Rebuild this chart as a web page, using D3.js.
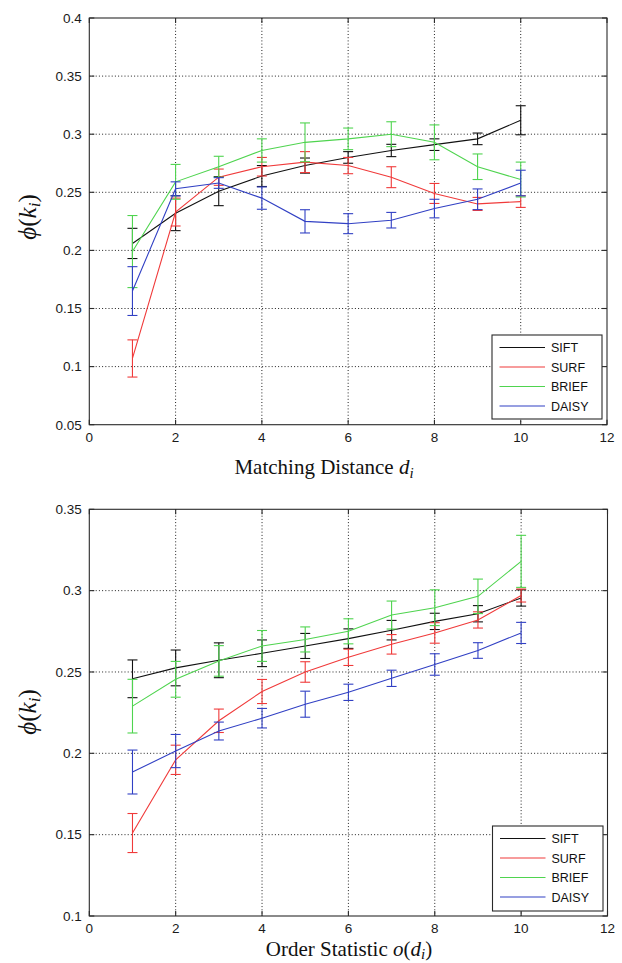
<!DOCTYPE html>
<html>
<head>
<meta charset="utf-8">
<script src="https://cdn.jsdelivr.net/npm/d3@7/dist/d3.min.js"></script>
<style>
  html, body { margin: 0; padding: 0; background: #fff; }
  svg { display: block; }
  .tick-label { font-family: "Liberation Sans", Arial, sans-serif; font-size: 13.5px; fill: #1a1a1a; }
  .axis-title { font-family: "Liberation Serif", "Times New Roman", serif; font-size: 21px; fill: #111; }
  .legend-text { font-family: "Liberation Sans", Arial, sans-serif; font-size: 12.5px; fill: #111; }
</style>
</head>
<body>
<svg id="fig" width="622" height="963"></svg>
<script>
// Shared x positions (index i = 1..10)
const xValues = [1, 2, 3, 4, 5, 6, 7, 8, 9, 10];
const xTicks = [0, 2, 4, 6, 8, 10, 12];
const seriesNames = ["SIFT", "SURF", "BRIEF", "DAISY"];
const seriesColors = ["#111111", "#f03a3a", "#4fd44f", "#3140c4"];

// Panel 1: phi(k_i) vs matching distance d_i
const yTicksTop = [0.05, 0.1, 0.15, 0.2, 0.25, 0.3, 0.35, 0.4];
const siftTop = [0.206, 0.232, 0.251, 0.264, 0.273, 0.280, 0.286, 0.291, 0.296, 0.312];
const siftTopErr = [0.013, 0.015, 0.0125, 0.009, 0.0065, 0.005, 0.0053, 0.005, 0.005, 0.0125];
const surfTop = [0.107, 0.233, 0.263, 0.272, 0.276, 0.273, 0.263, 0.249, 0.240, 0.242];
const surfTopErr = [0.016, 0.012, 0.007, 0.008, 0.009, 0.007, 0.009, 0.0086, 0.0056, 0.005];
const briefTop = [0.199, 0.259, 0.272, 0.286, 0.293, 0.296, 0.300, 0.293, 0.272, 0.261];
const briefTopErr = [0.031, 0.015, 0.009, 0.010, 0.0167, 0.0093, 0.0107, 0.015, 0.011, 0.015];
const daisyTop = [0.165, 0.253, 0.258, 0.245, 0.225, 0.223, 0.226, 0.236, 0.244, 0.258];
const daisyTopErr = [0.021, 0.006, 0.0046, 0.0096, 0.010, 0.0086, 0.0067, 0.008, 0.0089, 0.011];

// Panel 2: phi(k_i) vs order statistic o(d_i)
const yTicksBottom = [0.1, 0.15, 0.2, 0.25, 0.3, 0.35];
const siftBottom = [0.2458, 0.2525, 0.2572, 0.2615, 0.266, 0.2705, 0.2757, 0.2811, 0.2858, 0.2955];
const siftBottomErr = [0.0116, 0.011, 0.0107, 0.0082, 0.0077, 0.006, 0.006, 0.005, 0.005, 0.005];
const surfBottom = [0.151, 0.196, 0.220, 0.238, 0.250, 0.259, 0.267, 0.274, 0.282, 0.297];
const surfBottomErr = [0.012, 0.009, 0.0072, 0.0074, 0.0063, 0.005, 0.006, 0.0063, 0.005, 0.004];
const briefBottom = [0.229, 0.2455, 0.2568, 0.266, 0.270, 0.275, 0.285, 0.2895, 0.2965, 0.318];
const briefBottomErr = [0.0165, 0.011, 0.0094, 0.0095, 0.0077, 0.0077, 0.0086, 0.011, 0.0106, 0.016];
const daisyBottom = [0.1885, 0.2014, 0.2137, 0.2216, 0.2302, 0.2375, 0.2461, 0.2546, 0.2632, 0.274];
const daisyBottomErr = [0.0135, 0.0102, 0.0055, 0.006, 0.008, 0.005, 0.005, 0.0066, 0.0048, 0.0065];

const svg = d3.select("#fig");

function drawPanel(cfg) {
  const { left, right, top, bottom, yDomain, yTicks, means, errs,
          xTitle, xTitleX, xTitleY, yTitleY, legendBox } = cfg;
  const x = d3.scaleLinear().domain([0, 12]).range([left, right]);
  const y = d3.scaleLinear().domain(yDomain).range([bottom, top]);
  const g = svg.append("g");
  const tickLen = 5;

  // dotted grid
  const grid = g.append("g").attr("stroke", "#222").attr("stroke-width", 1)
    .attr("stroke-dasharray", "1,2.2");
  xTicks.filter(t => t > 0 && t < 12).forEach(t => {
    grid.append("line").attr("x1", x(t)).attr("x2", x(t))
      .attr("y1", top).attr("y2", bottom);
  });
  yTicks.filter(t => t > yDomain[0] && t < yDomain[1]).forEach(t => {
    grid.append("line").attr("x1", left).attr("x2", right)
      .attr("y1", y(t)).attr("y2", y(t));
  });

  // series: lines + error bars
  const line = d3.line().x((d, i) => x(xValues[i])).y(d => y(d));
  means.forEach((vals, s) => {
    const col = seriesColors[s];
    const sg = g.append("g").attr("stroke", col).attr("fill", "none").attr("stroke-width", 1.1);
    sg.append("path").attr("d", line(vals));
    vals.forEach((v, i) => {
      const e = errs[s][i];
      const cx = x(xValues[i]);
      const capW = 5;
      sg.append("line").attr("x1", cx).attr("x2", cx).attr("y1", y(v - e)).attr("y2", y(v + e));
      sg.append("line").attr("x1", cx - capW).attr("x2", cx + capW).attr("y1", y(v - e)).attr("y2", y(v - e));
      sg.append("line").attr("x1", cx - capW).attr("x2", cx + capW).attr("y1", y(v + e)).attr("y2", y(v + e));
    });
  });

  // axes box and inward ticks
  const ax = g.append("g").attr("stroke", "#2a2a2a").attr("stroke-width", 1.1).attr("fill", "none");
  ax.append("rect").attr("x", left).attr("y", top).attr("width", right - left).attr("height", bottom - top);
  xTicks.forEach(t => {
    ax.append("line").attr("x1", x(t)).attr("x2", x(t)).attr("y1", bottom).attr("y2", bottom - tickLen);
    ax.append("line").attr("x1", x(t)).attr("x2", x(t)).attr("y1", top).attr("y2", top + tickLen);
  });
  yTicks.forEach(t => {
    ax.append("line").attr("x1", left).attr("x2", left + tickLen).attr("y1", y(t)).attr("y2", y(t));
    ax.append("line").attr("x1", right).attr("x2", right - tickLen).attr("y1", y(t)).attr("y2", y(t));
  });

  // tick labels
  xTicks.forEach(t => {
    g.append("text").attr("class", "tick-label").attr("x", x(t)).attr("y", bottom + 17)
      .attr("text-anchor", "middle").text(t);
  });
  yTicks.forEach(t => {
    g.append("text").attr("class", "tick-label").attr("x", left - 7.5).attr("y", y(t) + 4.8)
      .attr("text-anchor", "end").text(d3.format("~g")(t));
  });

  // x title
  const xt = g.append("text").attr("class", "axis-title")
    .attr("x", xTitleX).attr("y", xTitleY).attr("text-anchor", "middle");
  xTitle(xt);

  // y title: phi(k_i), rotated
  const yt = g.append("text").attr("class", "axis-title")
    .attr("transform", `translate(36,${yTitleY}) rotate(-90)`)
    .attr("text-anchor", "middle").style("font-size", "25px");
  yt.append("tspan").style("font-style", "italic").text("\u03d5");
  yt.append("tspan").text("(");
  yt.append("tspan").style("font-style", "italic").text("k");
  yt.append("tspan").style("font-style", "italic").style("font-size", "17px").attr("dy", 4).text("i");
  yt.append("tspan").attr("dy", -4).text(")");

  // legend
  const lg = g.append("g");
  lg.append("rect").attr("x", legendBox.x).attr("y", legendBox.y)
    .attr("width", legendBox.w).attr("height", legendBox.h)
    .attr("fill", "#fff").attr("stroke", "#2a2a2a").attr("stroke-width", 1.1);
  seriesNames.forEach((name, s) => {
    const ry = legendBox.y + 12.5 + s * 19.5;
    lg.append("line").attr("x1", legendBox.x + 7.5).attr("x2", legendBox.x + 53)
      .attr("y1", ry).attr("y2", ry).attr("stroke", seriesColors[s]).attr("stroke-width", 1.1);
    lg.append("text").attr("class", "legend-text").attr("x", legendBox.x + 59).attr("y", ry + 4.5).text(name);
  });
}

drawPanel({
  left: 89.3, right: 607, top: 18, bottom: 424.7,
  yDomain: [0.05, 0.4], yTicks: yTicksTop,
  means: [siftTop, surfTop, briefTop, daisyTop],
  errs: [siftTopErr, surfTopErr, briefTopErr, daisyTopErr],
  xTitle: t => {
    t.append("tspan").text("Matching Distance ");
    t.append("tspan").style("font-style", "italic").text("d");
    t.append("tspan").style("font-style", "italic").style("font-size", "15px").attr("dy", 4).text("i");
  },
  xTitleX: 324, xTitleY: 474,
  yTitleY: 217,
  legendBox: { x: 492, y: 335, w: 110, h: 84 }
});

drawPanel({
  left: 89.3, right: 607.5, top: 509.3, bottom: 916,
  yDomain: [0.1, 0.35], yTicks: yTicksBottom,
  means: [siftBottom, surfBottom, briefBottom, daisyBottom],
  errs: [siftBottomErr, surfBottomErr, briefBottomErr, daisyBottomErr],
  xTitle: t => {
    t.append("tspan").text("Order Statistic ");
    t.append("tspan").style("font-style", "italic").text("o");
    t.append("tspan").text("(");
    t.append("tspan").style("font-style", "italic").text("d");
    t.append("tspan").style("font-style", "italic").style("font-size", "15px").attr("dy", 3).text("i");
    t.append("tspan").attr("dy", -3).text(")");
  },
  xTitleX: 349, xTitleY: 956,
  yTitleY: 712,
  legendBox: { x: 492.5, y: 826, w: 110.5, h: 85 }
});
</script>
</body>
</html>
